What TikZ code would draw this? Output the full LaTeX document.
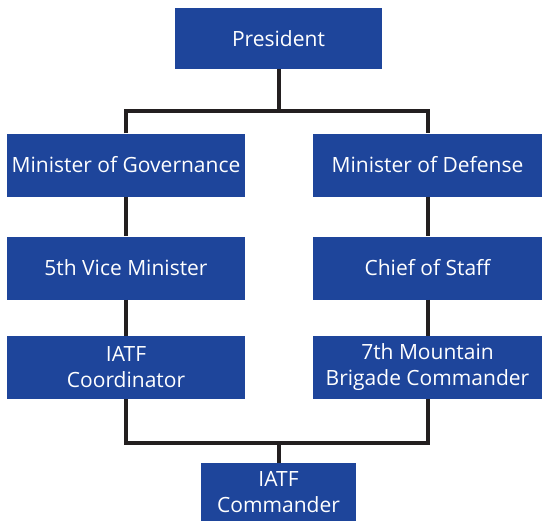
\documentclass[tikz,border=0pt]{standalone}
\usepackage{fontspec}
\setmainfont{Open Sans}
\usetikzlibrary{positioning,calc}
\definecolor{orgblue}{RGB}{30,69,155}
\definecolor{linedark}{RGB}{35,31,32}

\begin{document}
\begin{tikzpicture}[x=1pt,y=-1pt,
    box/.style={fill=orgblue, text=white, inner sep=0pt, minimum height=63pt,
      align=center, font=\fontsize{21}{26}\selectfont},
    link/.style={draw=linedark, line width=4pt}]
    \useasboundingbox (0,0) rectangle (543,522);

    % Boxes
    \node[box, minimum width=207pt, minimum height=61pt] (pres) at (278.5,38.5) {President};
    \node[box, minimum width=238pt] (mgov) at (126,165) {Minister of Governance};
    \node[box, minimum width=229pt] (mdef) at (427.5,165) {Minister of Defense};
    \node[box, minimum width=238pt] (vmin) at (126,268) {5th Vice Minister};
    \node[box, minimum width=229pt] (staff) at (427.5,268) {Chief of Staff};
    \node[box, minimum width=238pt] (coord) at (126,367.5) {IATF\\Coordinator};
    \node[box, minimum width=229pt] (brig) at (427.5,367.5) {7th Mountain\\Brigade Commander};
    \node[box, minimum width=155pt, minimum height=58pt] (cmdr) at (278.5,492) {IATF\\Commander};

    % Top branch
    \coordinate (topfork) at (278.5,110.5);
    \draw[link] (pres.south) -- (topfork);
    \draw[link] (mgov.north) |- (topfork) -| (mdef.north);

    % Columns
    \draw[link] (mgov.south) -- (vmin.north);
    \draw[link] (vmin.south) -- (coord.north);
    \draw[link] (mdef.south) -- (staff.north);
    \draw[link] (staff.south) -- (brig.north);

    % Bottom branch
    \coordinate (botfork) at (278.5,443);
    \draw[link] (coord.south) |- (botfork) -| (brig.south);
    \draw[link] (botfork) -- (cmdr.north);
\end{tikzpicture}
\end{document}
